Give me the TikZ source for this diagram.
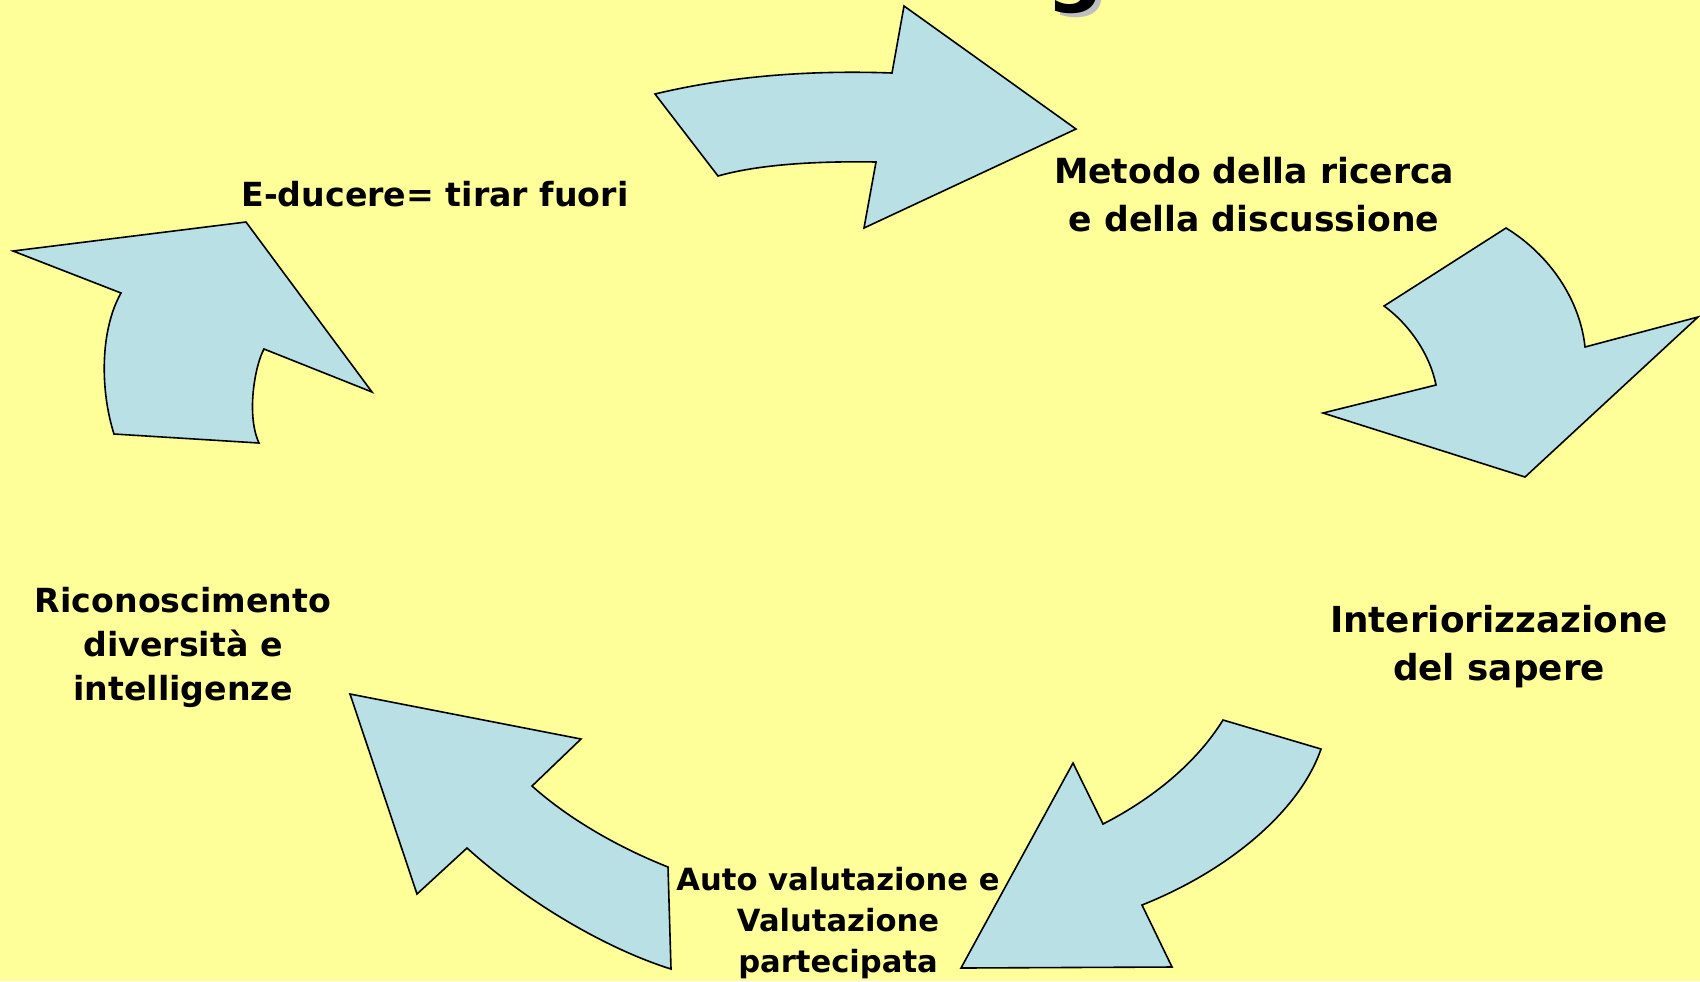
\documentclass[tikz,border=0pt]{standalone}
\usepackage{fontspec}
\setmainfont{DejaVu Sans}
\usepackage{tikz}
\definecolor{sfondo}{RGB}{255,255,153}
\definecolor{azzurro}{RGB}{185,224,229}
\tikzstyle{fr}=[%
      draw=black, line width=0.8pt, fill=azzurro, line join=miter
]
\tikzstyle{lb}=[%
      align=center, inner sep=0pt, text=black, anchor=base
]

\begin{document}
\begin{tikzpicture}[x=0.5pt, y=-0.5pt]
    \useasboundingbox (0,0) rectangle (1700,981);
    \fill[sfondo] (0,0) rectangle (1700,981);
    % resto del titolo
    \node[anchor=base, text=black!25, font=\bfseries\fontsize{40}{40}\selectfont] (gs) at (1080,0) {g};
    \node[anchor=base, font=\bfseries\fontsize{40}{40}\selectfont] (g) at (1075,-4) {g};
    % frecce
    \draw[fr] (655,94) .. controls (730,76) and (810,70) .. (892,73) -- (904,6) -- (1076,129)
          -- (864,228) -- (876,162) .. controls (820,161) and (760,164) .. (718,176) -- cycle;
    \draw[fr] (114,434) .. controls (100,390) and (100,330) .. (121,293) -- (13,251) -- (246,222)
          -- (372,392) -- (264,349) .. controls (255,365) and (246,415) .. (259,443) -- cycle;
    \draw[fr] (1506,228) .. controls (1550,255) and (1580,300) .. (1585,347) -- (1698,317)
          -- (1525,477) -- (1323,413) -- (1436,385) .. controls (1430,355) and (1410,325) .. (1384,306) -- cycle;
    \draw[fr] (1321,749) .. controls (1300,810) and (1230,870) .. (1142,905) -- (1172,967)
          -- (961,968) -- (1073,763) -- (1103,824) .. controls (1150,800) and (1195,765) .. (1223,720) -- cycle;
    \draw[fr] (350,694) -- (581,739) -- (532,786) .. controls (570,820) and (620,848) .. (668,867)
          -- (671,969) .. controls (610,950) and (530,905) .. (467,848) -- (417,894) -- cycle;
    % testi (base = ultima riga)
    \node[lb, font=\bfseries\fontsize{16.6}{20}\selectfont] (ed) at (435,206) {E-ducere= tirar fuori};
    \node[lb, font=\bfseries\fontsize{17.3}{24}\selectfont] (met) at (1254,231)
          {Metodo della ricerca\\e della discussione};
    \node[lb, font=\bfseries\fontsize{17.9}{24}\selectfont] (int) at (1499,680)
          {Interiorizzazione\\del sapere};
    \node[lb, font=\bfseries\fontsize{16.6}{22}\selectfont] (ric) at (183,700)
          {Riconoscimento\\diversità e\\intelligenze};
    \node[lb, font=\bfseries\fontsize{15.3}{20.5}\selectfont] (aut) at (838,972)
          {Auto valutazione e\\Valutazione\\partecipata};
\end{tikzpicture}
\end{document}
